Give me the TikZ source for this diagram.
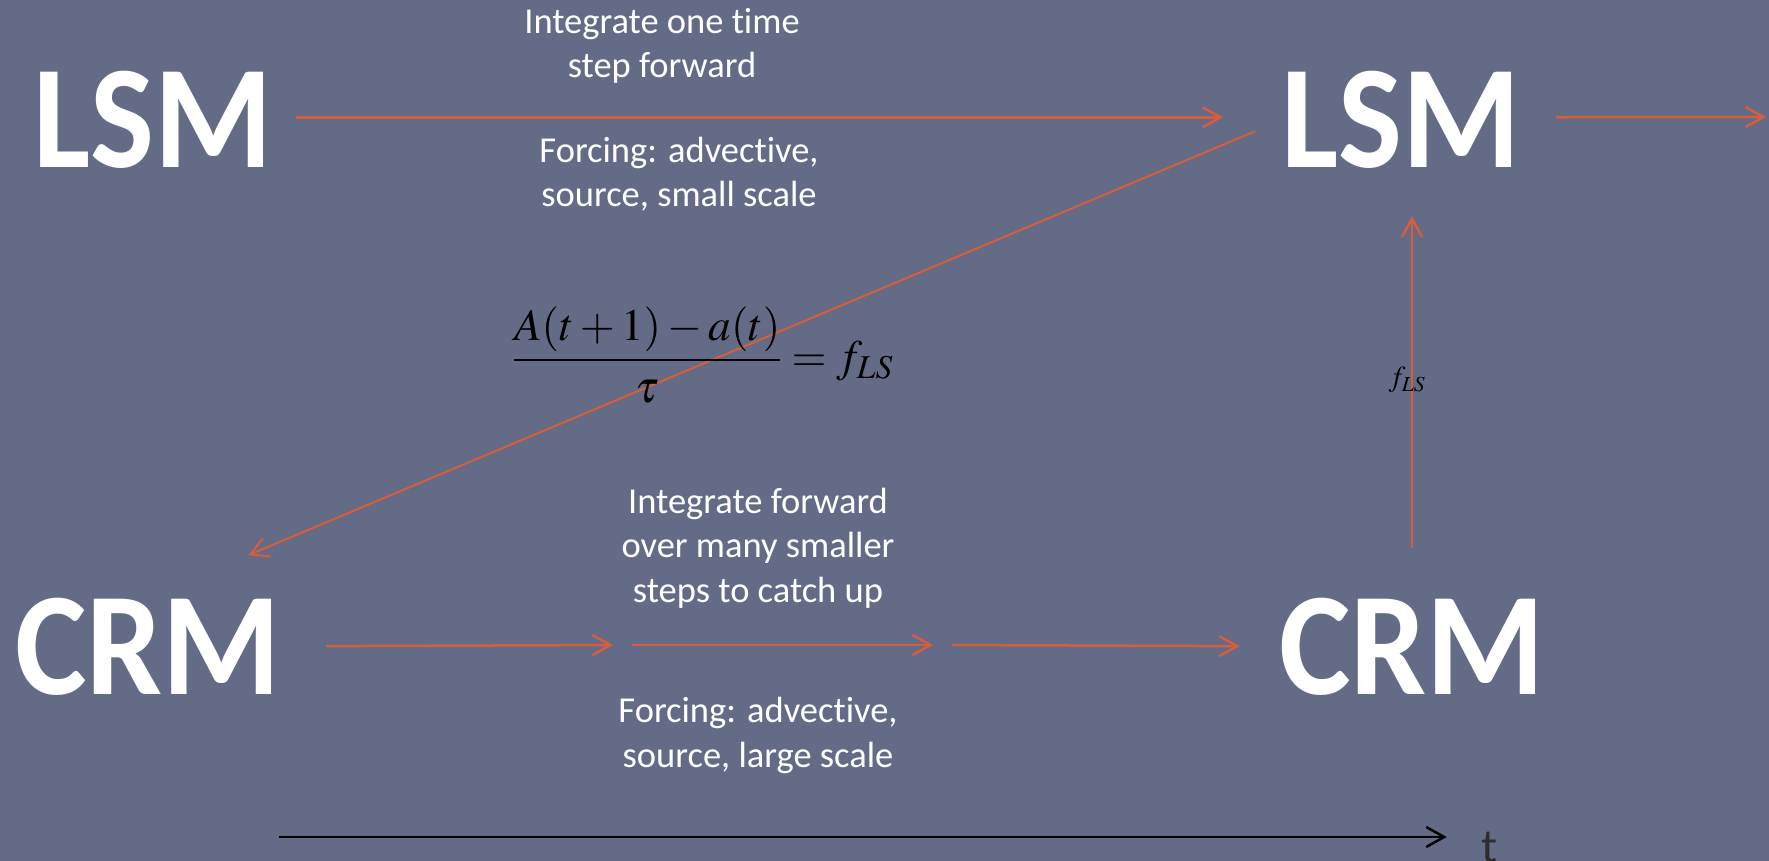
\documentclass[tikz,border=0pt]{standalone}
\usepackage{mathptmx}
\usepackage{fontspec}
\setmainfont{Carlito}[Ligatures={NoCommon,NoContextual}]
\newfontfamily\modelfont{Carlito}[FakeStretch=0.92]
\usetikzlibrary{arrows.meta, positioning, calc}
\definecolor{SlateBg}{RGB}{100,107,134}
\definecolor{RustLine}{RGB}{213,94,60}
\definecolor{AxisText}{RGB}{45,45,45}

\begin{document}
\begin{tikzpicture}[x=1pt,y=-1pt,
    model/.style={text=white,font=\modelfont\fontsize{147}{150}\selectfont\bfseries,
                  inner sep=0pt,anchor=base},
    note/.style={text=white,font=\fontsize{36.5}{44.5}\selectfont,
                 align=center,inner sep=0pt,anchor=base},
    arr/.style={-{Straight Barb[length=18pt,width=20pt]},RustLine,line width=2.5pt},
    tline/.style={-{Straight Barb[length=18pt,width=20pt]},black,line width=2.5pt}
  ]
    \fill[SlateBg] (0,0) rectangle (1769,861);
    \clip (0,0) rectangle (1769,861);

    % LSM row
    \node[model] (lsmL) at (153,168) {LSM};
    \node[model] (lsmR) at (1401,168) {LSM};
    \coordinate (next) at (1766,117);
    \draw[arr,shorten <=23pt,shorten >=58pt] ([yshift=3pt]lsmL.east) -- ([yshift=3pt]lsmR.west);
    \draw[arr,shorten <=35pt] ([yshift=3pt]lsmR.east) -- (next);
    \node[note] (stepTop)  at (662,78)  {Integrate one time\\step forward};
    \node[note] (forceTop) at (679,207) {Forcing: advective,\\source, small scale};

    % CRM row
    \node[model] (crmL) at (148,694) {CRM};
    \node[model] (crmR) at (1412,694) {CRM};
    \coordinate (mid1) at (622,645);
    \coordinate (mid2) at (942,645);
    \draw[arr,shorten <=45pt,shorten >=9pt] (crmL.east) -- (mid1);
    \draw[arr,shorten <=10pt,shorten >=9pt] (mid1) -- (mid2);
    \draw[arr,shorten <=10pt,shorten >=39pt] (mid2) -- (crmR.west);
    \node[note] (stepBot)  at (758,602) {Integrate forward\\over many smaller\\steps to catch up};
    \node[note] (forceBot) at (758,767) {Forcing: advective,\\source, large scale};

    % coupling between the two models
    \draw[arr,line width=2pt,shorten <=28pt,shorten >=109pt] (lsmR.west) -- (crmL.north);
    \draw[arr,shorten <=49pt,shorten >=47pt] (crmR.north) -- (crmR.north |- lsmR.south);
    \node[font=\fontsize{29}{30}\selectfont,inner sep=0pt] (flabel) at (1407,380) {$f_{LS}$};
    \node[font=\fontsize{45}{50}\selectfont,inner sep=0pt] (relax) at (703,355)
      {$\displaystyle\frac{A(t+1)-a(t)}{\tau}=f_{LS}$};

    % time axis
    \coordinate (t0) at (279,837);
    \node[font=\fontsize{48}{50}\selectfont,text=AxisText,anchor=base,inner sep=0pt] (tlab) at (1490,862) {t};
    \draw[tline,shorten >=35pt] (t0) -- (t0 -| tlab.west);
\end{tikzpicture}
\end{document}
